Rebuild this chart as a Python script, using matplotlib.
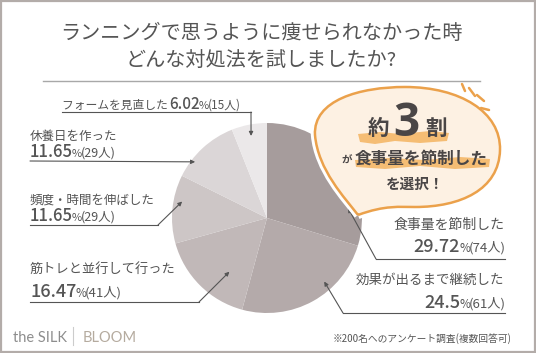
import numpy as np
import matplotlib
matplotlib.use("Agg")
import matplotlib.pyplot as plt
from matplotlib.path import Path
from matplotlib.patches import PathPatch, Rectangle, Polygon

plt.rcParams['font.family'] = ['Noto Sans CJK JP', 'DejaVu Sans']

# data
labels = ['食事量を節制した', '効果が出るまで継続した', '筋トレと並行して行った',
          '頻度・時間を伸ばした', '休養日を作った', 'フォームを見直した']
pct = [29.72, 24.5, 16.47, 11.65, 11.65, 6.02]
counts = [74, 61, 41, 29, 29, 15]
colors = ['#a69c9c', '#b4aaaa', '#c1b8b8', '#cdc6c6', '#dbd6d7', '#ebe8e9']

title = 'ランニングで思うように痩せられなかった時\nどんな対処法を試しましたか?'
note = '※200名へのアンケート調査(複数回答可)'

W, H = 536, 353
TXT = '#555555'
fig = plt.figure(figsize=(W / 100, H / 100), dpi=100)
fig.patch.set_facecolor('white')

# pie (center 267,218 px, radius 95 px)
cx, cy, R = 267, 218, 95
axp = fig.add_axes([(cx - R) / W, (H - cy - R) / H, 2 * R / W, 2 * R / H])
axp.pie(pct, colors=colors, startangle=90, counterclock=False, radius=1,
        wedgeprops=dict(linewidth=0))
axp.set_xlim(-1, 1)
axp.set_ylim(-1, 1)
axp.axis('off')

# overlay in pixel coordinates
ax = fig.add_axes([0, 0, 1, 1])
ax.set_xlim(0, W)
ax.set_ylim(H, 0)
ax.axis('off')
ax.patch.set_alpha(0)

ax.add_patch(Rectangle((0.8, 0.8), W - 1.6, H - 1.6, fill=False, ec='#b3aca9', lw=1.6))

ax.text(261, 47, title, ha='center', va='center', fontsize=14.5, color=TXT,
        linespacing=1.35)
ax.plot([43, 480], [81, 81], color='#a8a8a8', lw=1)

r = fig.canvas.get_renderer()


def seq(x, y, parts, ha='left', color=TXT):
    items = []
    for s, size, weight in parts:
        t = ax.text(0, y, s, fontsize=size, fontweight=weight, color=color,
                    va='baseline', ha='left')
        items.append((t, t.get_window_extent(r).width - 1))
    total = sum(w for _, w in items)
    px = x if ha == 'left' else x - total
    for t, w in items:
        t.set_x(px)
        px += w


def num_parts(p, c, big=13, small=8.5):
    return [(str(p), big, 'medium'), ('%', small, 'normal'),
            ('(%d人)' % c, small + 1, 'normal')]


def tip(ang, frac):
    # arrow tip inside a slice: angle clockwise from top (deg), radius fraction
    a = np.radians(ang)
    return (cx + frac * R * np.sin(a), cy - frac * R * np.cos(a))


def arrow(path_pts, end):
    xs = [p[0] for p in path_pts]
    ys = [p[1] for p in path_pts]
    ax.plot(xs, ys, color='#555555', lw=0.8)
    ax.annotate('', xy=end, xytext=path_pts[-1],
                arrowprops=dict(arrowstyle='-|>', color='#555555', lw=0.8,
                                mutation_scale=6, shrinkA=0, shrinkB=0))


# right labels
seq(503, 229, [(labels[0], 10, 'normal')], ha='right')
seq(505, 252, num_parts(pct[0], counts[0]), ha='right')
arrow([(505, 259), (376, 259)], tip(83, 0.86))

seq(503, 284, [(labels[1], 9.7, 'normal')], ha='right')
seq(505, 308, num_parts(pct[1], counts[1]), ha='right')
arrow([(505, 313), (343, 313)], tip(138, 0.9))

# left labels
seq(30, 273, [(labels[2], 9.5, 'normal')])
seq(30, 297, num_parts(pct[2], counts[2]))
arrow([(30, 302), (199, 302)], tip(215, 0.69))

seq(30, 204, [(labels[3], 9, 'normal')])
seq(30, 221, num_parts(pct[3], counts[3], big=12, small=8))
arrow([(30, 225), (158, 225)], tip(281, 0.91))

seq(30, 140, [(labels[4], 9, 'normal')])
seq(30, 157, num_parts(pct[4], counts[4], big=12, small=8))
arrow([(30, 161)], tip(308, 0.96))

seq(62, 109, [(labels[5] + ' ', 8.5, 'normal'), (str(pct[5]), 11, 'medium'),
              ('%', 8, 'normal'), ('(%d人)' % counts[5], 8.5, 'normal')])
arrow([(62, 112), (251, 112)], tip(349, 0.88))

# speech bubble
verts = [(358, 215),
         (345, 198), (318, 170), (315, 135),
         (313, 100), (360, 87), (405, 87),
         (460, 87), (501, 112), (500, 150),
         (499, 190), (460, 207), (415, 207),
         (400, 207), (385, 205), (358, 215)]
codes = [Path.MOVETO] + [Path.CURVE4] * 15
bpath = Path(verts, codes)
ax.add_patch(PathPatch(bpath, fc='none', ec='white', lw=6, zorder=3))
ax.add_patch(PathPatch(bpath, fc='#fdf1e3', ec='#eba14b', lw=1.8, zorder=4))

for (x0, y0), (x1, y1) in [((462, 84), (465, 91)), ((469, 88), (475, 96)),
                           ((477, 95), (484, 101)), ((481, 108), (489, 110))]:
    ax.plot([x0, x1], [y0, y1], color='#eba14b', lw=1.8, solid_capstyle='round', zorder=4)

# highlight brush strokes
ax.add_patch(Polygon([(358, 134), (380, 132), (400, 134), (430, 131), (449, 133),
                      (447, 141), (420, 143), (395, 141), (375, 144), (360, 142)],
                     fc='#f4b461', ec='none', alpha=0.85, zorder=5))
ax.add_patch(Polygon([(355, 160), (390, 158), (425, 160), (460, 157), (490, 159),
                      (489, 167), (455, 169), (420, 166), (385, 169), (356, 167)],
                     fc='#f4b461', ec='none', alpha=0.85, zorder=5))

bt = '#4a4646'
ax.text(378, 135, '約', fontsize=15.5, fontweight='bold', color=bt, ha='center',
        va='baseline', zorder=6)
ax.text(406, 136, '3', fontsize=33, fontweight='bold', color=bt, ha='center',
        va='baseline', zorder=6, family=['Open Sans', 'DejaVu Sans'])
ax.text(436, 135, '割', fontsize=15.5, fontweight='bold', color=bt, ha='center',
        va='baseline', zorder=6)
ax.text(347, 164, 'が', fontsize=7.5, fontweight='bold', color=bt, ha='center',
        va='baseline', zorder=6)
ax.text(421, 164, labels[0], fontsize=12, fontweight='bold', color=bt, ha='center',
        va='baseline', zorder=6)
ax.text(415, 189, 'を選択！', fontsize=10.5, fontweight='bold', color=bt, ha='center',
        va='baseline', zorder=6)

# footer
ax.text(13, 342, 'the SILK', fontsize=10.5, color='#8d8d8d', va='baseline',
        family=['Lato', 'DejaVu Sans'])
ax.plot([73, 73], [327, 345], color='#cccccc', lw=0.8)
ax.text(83, 342, 'BLOOM', fontsize=10.5, color='#b5ab9f', va='baseline',
        family=['Lato', 'DejaVu Sans'])
ax.text(512, 342, note, fontsize=7, color=TXT, ha='right', va='baseline')

fig.savefig('out.png', dpi=100)
